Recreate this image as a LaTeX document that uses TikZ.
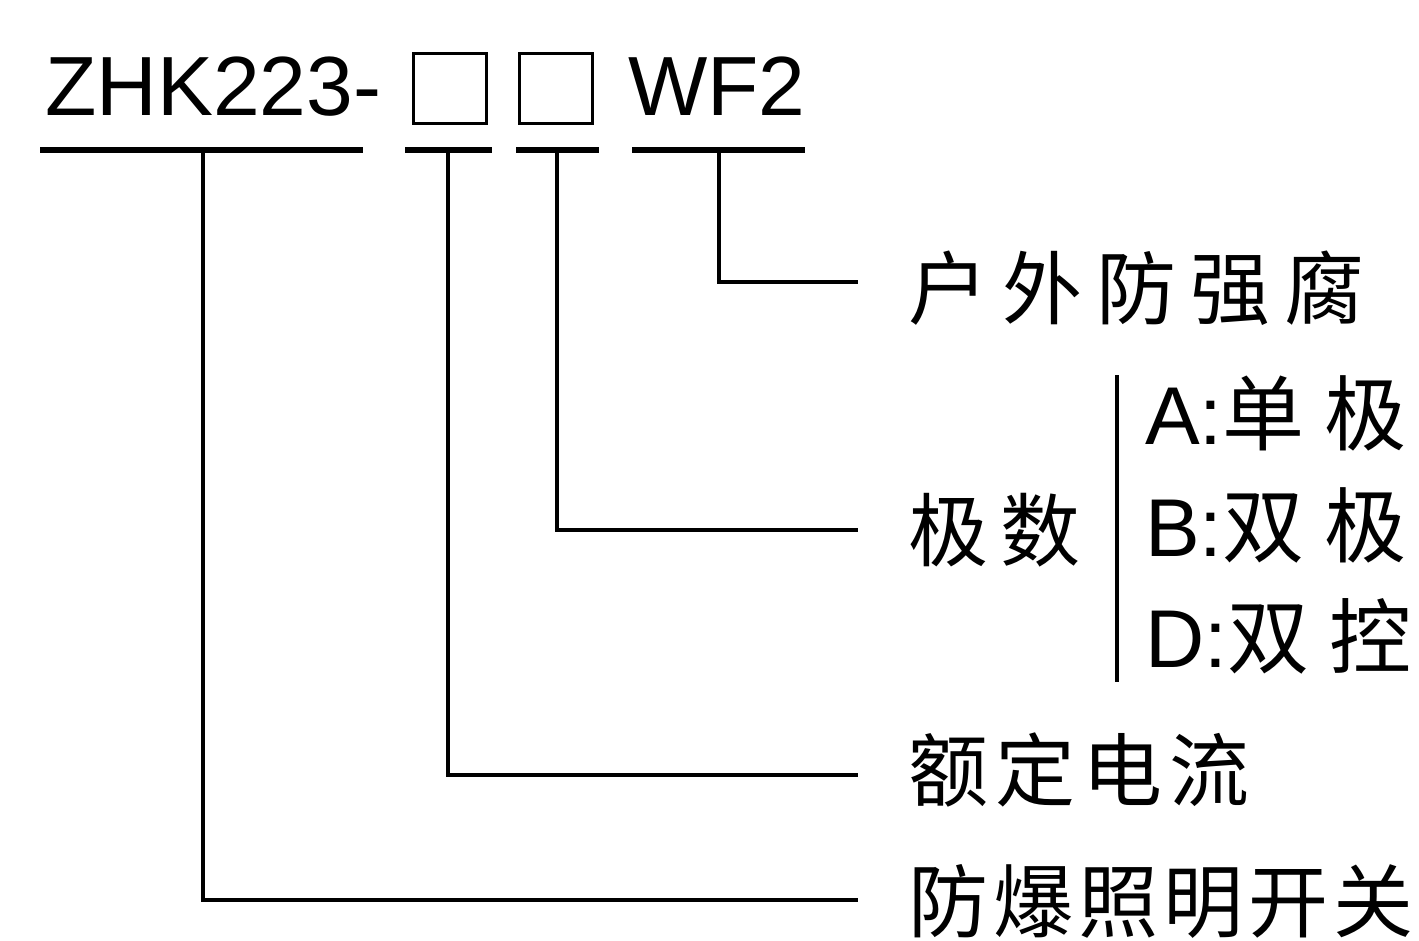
\documentclass[tikz,border=0pt]{standalone}
\usepackage{fontspec}
\setmainfont{Liberation Sans}
\newfontfamily\cjk{Noto Sans CJK SC}
\newcommand\cg[1]{\hspace{#1pt}}
\begin{document}
\begin{tikzpicture}[x=1pt,y=-1pt,
  code/.style={anchor=base west, inner sep=0pt, font=\fontsize{84}{84}\selectfont},
  lbl/.style={anchor=base west, inner sep=0pt, font=\cjk\fontsize{80}{80}\selectfont},
  opt/.style={anchor=base west, inner sep=0pt, font=\fontsize{82}{82}\selectfont},
  blank/.style={draw, line width=3pt, minimum width=73pt, minimum height=70pt, inner sep=0pt},
  uline/.style={line width=6pt},
  conn/.style={line width=4.5pt}]
\useasboundingbox (0,0) rectangle (1419,940);
% code
\node[code] (zhk) at (45,115) {ZHK223-};
\node[blank] (b1) at (449.5,88) {};
\node[blank] (b2) at (556,88) {};
\node[code] (wf) at (628,115) {WF2};
% underlines
\draw[uline] (40,150) -- (363,150);
\draw[uline] (405,150) -- (492,150);
\draw[uline] (516,150) -- (599,150);
\draw[uline] (632,150) -- (805,150);
\coordinate (u1) at (203,150);
\coordinate (u2) at (448,150);
\coordinate (u3) at (557,150);
\coordinate (u4) at (719,150);
% connector ends
\coordinate (e4) at (858,282);
\coordinate (e3) at (858,530);
\coordinate (e2) at (858,775);
\coordinate (e1) at (858,900);
\draw[conn] (u4) |- (e4);
\draw[conn] (u3) |- (e3);
\draw[conn] (u2) |- (e2);
\draw[conn] (u1) |- (e1);
% labels
\node[lbl] (l4) at (908,318) {户\cg{14}外\cg{14}防\cg{14}强\cg{14}腐};
\node[lbl] (l3) at (908,560) {极\cg{12}数};
\node[lbl] (l2) at (908,800) {额\cg{7}定\cg{7}电\cg{7}流};
\node[lbl] (l1) at (908,931) {防\cg{5}爆\cg{5}照\cg{5}明\cg{5}开\cg{5}关};
% bracket
\coordinate (bt) at (1117,375);
\coordinate (bb) at (1117,682);
\draw[conn] (bt) -- (bb);
\node[opt] (oa) at (1145,444) {A:{\cjk 单\cg{20}极}};
\node[opt] (ob) at (1145,556) {B:{\cjk 双\cg{20}极}};
\node[opt] (od) at (1145,667) {D:{\cjk 双\cg{20}控}};
\end{tikzpicture}
\end{document}
